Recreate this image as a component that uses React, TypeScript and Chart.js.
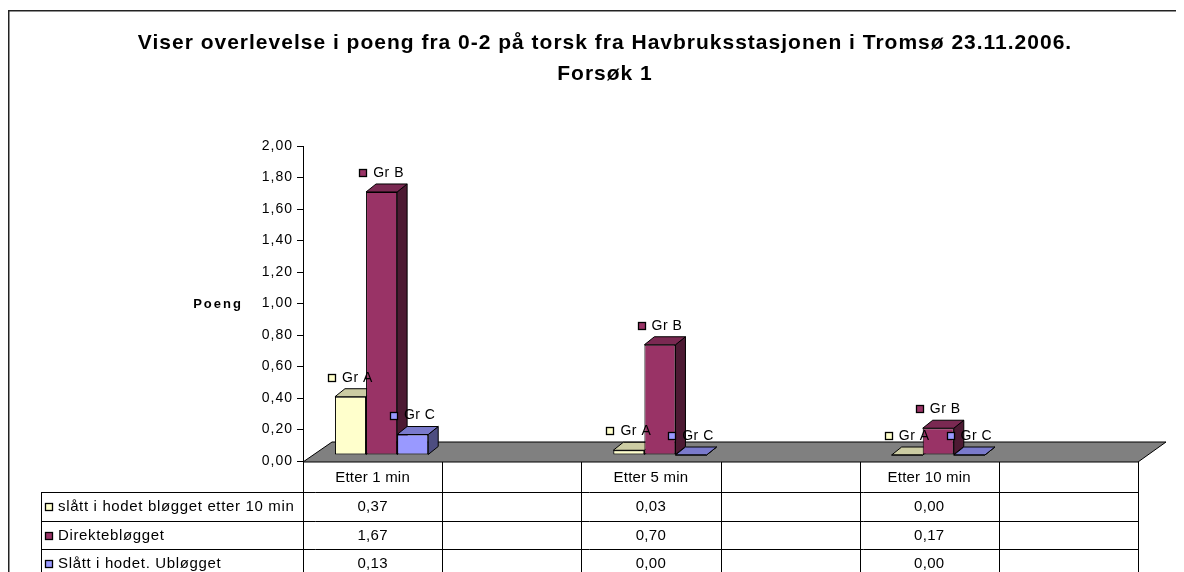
import React, { useEffect, useRef } from 'react';
import { Chart, registerables } from 'chart.js';

Chart.register(...registerables);

// ---------- data ----------
const TITLE_LINES = [
  'Viser overlevelse i poeng fra 0-2 på torsk fra Havbruksstasjonen i Tromsø 23.11.2006.',
  'Forsøk 1',
];
const Y_TITLE = 'Poeng';
const CATEGORIES = ['Etter 1 min', '', 'Etter 5 min', '', 'Etter 10 min', ''];
const SERIES_NAMES = ['slått i hodet bløgget etter 10 min', 'Direktebløgget', 'Slått i hodet. Ubløgget'];
const POINT_LABELS = ['Gr A', 'Gr B', 'Gr C'];
const GR_A = [0.37, null, 0.03, null, 0.0, null];
const GR_B = [1.67, null, 0.7, null, 0.17, null];
const GR_C = [0.13, null, 0.0, null, 0.0, null];
const Y_MIN = 0;
const Y_MAX = 2;
const Y_STEP = 0.2;

// ---------- styles ----------
const FONT = "'Liberation Sans', Arial, sans-serif";
const FRONT = ['#FFFFCC', '#993366', '#9999FF'];
const TOP = ['#CCCCA3', '#7A2952', '#7A7ACC'];
const SIDE = ['#99997A', '#4D1A33', '#4D4D80'];
const FLOOR = '#808080';

const fmt = (v: number) => v.toFixed(2).replace('.', ',');

function poly(ctx: CanvasRenderingContext2D, pts: number[][], fill: string) {
  ctx.beginPath();
  ctx.moveTo(pts[0][0], pts[0][1]);
  for (let i = 1; i < pts.length; i++) ctx.lineTo(pts[i][0], pts[i][1]);
  ctx.closePath();
  ctx.fillStyle = fill;
  ctx.fill();
  ctx.lineWidth = 1;
  ctx.strokeStyle = '#000';
  ctx.stroke();
}

function keyBox(ctx: CanvasRenderingContext2D, x: number, cy: number, fill: string) {
  const bx = Math.round(x) + 0.5;
  const by = Math.round(cy - 4) + 0.5;
  ctx.fillStyle = fill;
  ctx.fillRect(bx, by, 7, 7);
  ctx.strokeStyle = '#000';
  ctx.lineWidth = 1.3;
  ctx.strokeRect(bx, by, 7, 7);
  ctx.lineWidth = 1;
}

const excelPlugin = {
  id: 'excel3d',
  beforeDraw(chart: any) {
    const ctx: CanvasRenderingContext2D = chart.ctx;
    ctx.save();
    ctx.fillStyle = '#fff';
    ctx.fillRect(0, 0, chart.width, chart.height);
    // outer chart border (right/bottom lie outside the view)
    ctx.fillStyle = '#222';
    ctx.fillRect(0, 2, chart.width, 1.5);
    ctx.fillRect(0, 2, 1.5, chart.height);
    // title
    ctx.fillStyle = '#000';
    ctx.textAlign = 'center';
    ctx.textBaseline = 'alphabetic';
    ctx.font = `bold 21px ${FONT}`;
    (ctx as any).letterSpacing = '1px';
    ctx.fillText(TITLE_LINES[0], 597, 41);
    ctx.fillText(TITLE_LINES[1], 597, 72);
    // y title
    ctx.textBaseline = 'middle';
    ctx.font = `bold 13px ${FONT}`;
    (ctx as any).letterSpacing = '2px';
    ctx.fillText(Y_TITLE, 210, 296);
    ctx.restore();
    (ctx as any).letterSpacing = '1px';
  },
  beforeDatasetsDraw(chart: any) {
    const ctx: CanvasRenderingContext2D = chart.ctx;
    const a = chart.chartArea;
    const FDX = 29;
    const FDY = 20;
    ctx.save();
    // floor
    poly(
      ctx,
      [
        [a.left, a.bottom + 1],
        [a.left + FDX, a.bottom + 1 - FDY],
        [a.right + FDX - 1, a.bottom + 1 - FDY],
        [a.right, a.bottom + 1],
      ],
      FLOOR
    );
    // bars, with a small 3D projection shift
    const DX = 10;
    const DY = 8;
    ctx.translate(9, -6);
    const n = chart.data.datasets.length;
    for (let j = 0; j < CATEGORIES.length; j++) {
      for (let d = 0; d < n; d++) {
        const v = chart.data.datasets[d].data[j];
        if (v == null) continue;
        const el = chart.getDatasetMeta(d).data[j];
        const { x, y, base, width } = el.getProps(['x', 'y', 'base', 'width'], true);
        const x1 = x - width / 2;
        const x2 = x + width / 2;
        poly(ctx, [[x2, y], [x2 + DX, y - DY], [x2 + DX, base - DY], [x2, base]], SIDE[d]);
        poly(ctx, [[x1, y], [x1 + DX, y - DY], [x2 + DX, y - DY], [x2, y]], TOP[d]);
        if (base - y > 0.5) {
          el.draw(ctx);
        } else {
          ctx.beginPath();
          ctx.moveTo(x1, base);
          ctx.lineTo(x2, base);
          ctx.strokeStyle = '#000';
          ctx.stroke();
        }
      }
    }
    // point labels
    ctx.font = `14px ${FONT}`;
    (ctx as any).letterSpacing = '0.5px';
    ctx.textBaseline = 'middle';
    ctx.textAlign = 'left';
    for (let j = 0; j < CATEGORIES.length; j++) {
      for (let d = 0; d < n; d++) {
        const v = chart.data.datasets[d].data[j];
        if (v == null) continue;
        const el = chart.getDatasetMeta(d).data[j];
        const { x, y } = el.getProps(['x', 'y'], true);
        const txt = POINT_LABELS[d];
        const tw = ctx.measureText(txt).width;
        const total = 8 + 6 + tw;
        const sx = x - total / 2;
        const sy = y - 19;
        keyBox(ctx, sx, sy, FRONT[d]);
        ctx.fillStyle = '#000';
        ctx.fillText(txt, sx + 14, sy);
      }
    }
    ctx.restore();
    return false;
  },
  afterDraw(chart: any) {
    const ctx: CanvasRenderingContext2D = chart.ctx;
    const a = chart.chartArea;
    const xs = chart.scales.x;
    const ncol = CATEGORIES.length;
    const w = (a.right - a.left) / ncol;
    const headTop = a.bottom + 1;
    const headBot = headTop + 30;
    const rowH = 28.5;
    const tableLeft = 33;
    const line = (x1: number, y1: number, x2: number, y2: number) => {
      ctx.beginPath();
      ctx.moveTo(x1, y1);
      ctx.lineTo(x2, y2);
      ctx.stroke();
    };
    ctx.save();
    ctx.strokeStyle = '#000';
    ctx.lineWidth = 1;
    for (let r = 0; r <= 3; r++) {
      const yy = Math.round(headBot + r * rowH) + 0.5;
      line(tableLeft, yy, a.right, yy);
    }
    for (let k = 0; k <= ncol; k++) {
      const xx = Math.round(a.left + k * w) + 0.5;
      line(xx, headTop, xx, chart.height);
    }
    line(tableLeft + 0.5, headBot, tableLeft + 0.5, chart.height);

    ctx.fillStyle = '#000';
    ctx.font = `15px ${FONT}`;
    (ctx as any).letterSpacing = '0.2px';
    ctx.textBaseline = 'middle';
    ctx.textAlign = 'center';
    CATEGORIES.forEach((c, i) => {
      if (c) ctx.fillText(c, xs.getPixelForValue(i), (headTop + headBot) / 2 + 1);
    });
    const series = chart.data.datasets;
    series.forEach((ds: any, d: number) => {
      const cy = headBot + rowH * d + rowH / 2 + 1;
      ctx.textAlign = 'left';
      keyBox(ctx, 37, cy, FRONT[d]);
      ctx.fillStyle = '#000';
      (ctx as any).letterSpacing = '0.65px';
      ctx.fillText(SERIES_NAMES[d], 50, cy);
      (ctx as any).letterSpacing = '0.3px';
      ctx.textAlign = 'center';
      ds.data.forEach((v: number | null, i: number) => {
        if (v == null) return;
        ctx.fillText(fmt(v), xs.getPixelForValue(i), cy);
      });
    });
    ctx.restore();
  },
};

export default function App() {
  const ref = useRef<HTMLCanvasElement | null>(null);
  useEffect(() => {
    document.body.style.overflow = 'hidden';
    const canvas = ref.current!;
    const chart = new Chart(canvas, {
      type: 'bar',
      data: {
        labels: CATEGORIES,
        datasets: [
          { label: SERIES_NAMES[0], data: GR_A, backgroundColor: FRONT[0] },
          { label: SERIES_NAMES[1], data: GR_B, backgroundColor: FRONT[1] },
          { label: SERIES_NAMES[2], data: GR_C, backgroundColor: FRONT[2] },
        ],
      },
      options: {
        animation: false,
        responsive: false,
        devicePixelRatio: 1,
        layout: { padding: { left: 235, right: 46, top: 138, bottom: 111 } },
        datasets: {
          bar: {
            categoryPercentage: 0.67,
            barPercentage: 1,
            borderColor: '#000',
            borderWidth: 1,
            borderSkipped: false,
          },
        },
        plugins: {
          legend: { display: false },
          title: { display: false },
          tooltip: { enabled: false },
        },
        scales: {
          x: { display: false },
          y: {
            min: Y_MIN,
            max: Y_MAX,
            ticks: {
              stepSize: Y_STEP,
              callback: (v: any) => fmt(Number(v)),
              color: '#000',
              font: { family: FONT, size: 14 },
              padding: 4,
            },
            grid: { drawOnChartArea: false, drawTicks: true, tickLength: 6, color: '#000' },
            border: { display: true, color: '#000', width: 1 },
            afterFit: (s: any) => {
              s.width = 60;
            },
          },
        },
      },
      plugins: [excelPlugin],
    } as any);
    return () => chart.destroy();
  }, []);
  return <canvas ref={ref} width={1176} height={564} style={{ display: 'block', width: 1176, height: 564 }} />;
}
